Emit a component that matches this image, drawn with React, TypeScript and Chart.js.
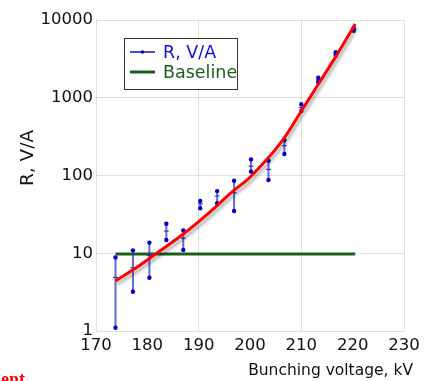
import React, { useEffect, useRef } from "react";
import { Chart, registerables } from "chart.js";

Chart.register(...registerables);

// Measured points (Bunching voltage, kV)
const xVals = [173.8, 177.2, 180.4, 183.7, 187.0, 190.3, 193.6, 196.9, 200.2, 203.6, 206.7, 210.0, 213.3, 216.7, 220.2];
const lowVals = [1.1, 3.2, 4.85, 14.8, 11, 37.9, 43.9, 34.9, 112, 87.5, 189, 676, 1580, 3473, 7250];
const highVals = [8.8, 10.9, 13.7, 24, 19.7, 47, 63, 85.7, 161, 155, 286, 824, 1811, 3845, 7900];
const centerVals = [4.9, 6.5, 9.3, 19.3, 15.6, 43, 54.5, 60, 132, 120, 242, 745, 1690, 3650, 7590];

// Fit curve samples
const fitX = [173.8, 177.5, 181.8, 187.0, 191.5, 196.8, 200.0, 205.9, 210.0, 213.3, 216.7, 220.5];
const fitY = [4.4, 6.3, 10, 17.7, 31, 63.8, 95, 259, 676, 1490, 3380, 8900];

// Baseline
const baselineX = [173.8, 220.5];
const baselineValue = 9.8;

const yTickValues = [1, 10, 100, 1000, 10000];
const xTitle = "Bunching voltage, kV";
const yTitle = "R, V/A";
const legendLabels = ["R, V/A", "Baseline"];

const BLUE = "#1010d8";
const GREEN = "#1d5e1d";
const FONT = "'DejaVu Sans', sans-serif";

export default function App() {
  const ref = useRef<HTMLCanvasElement>(null);

  useEffect(() => {
    if (!ref.current) return;
    const errData: { x: number; y: number | null }[] = [];
    xVals.forEach((x, i) => {
      errData.push({ x, y: lowVals[i] }, { x, y: highVals[i] }, { x, y: null });
    });

    const shadowPlugin = {
      id: "shadow",
      beforeDatasetDraw(chart: any, args: any) {
        const ds = chart.data.datasets[args.index];
        if (ds.shadow) {
          const ctx = chart.ctx;
          ctx.save();
          ctx.shadowColor = "rgba(0,0,0,0.3)";
          ctx.shadowOffsetX = 2;
          ctx.shadowOffsetY = 3;
          ctx.shadowBlur = 3;
        }
      },
      afterDatasetDraw(chart: any, args: any) {
        const ds = chart.data.datasets[args.index];
        if (ds.shadow) chart.ctx.restore();
      },
    };

    const decorPlugin = {
      id: "decor",
      afterDraw(chart: any) {
        const ctx = chart.ctx;
        const ca = chart.chartArea;
        ctx.save();
        // legend box
        const bx = ca.left + 28, by = 38, bw = 113, bh = 51;
        ctx.fillStyle = "#ffffff";
        ctx.fillRect(bx, by, bw, bh);
        ctx.strokeStyle = "#333";
        ctx.lineWidth = 1;
        ctx.strokeRect(bx + 0.5, by + 0.5, bw, bh);
        // item 1
        ctx.strokeStyle = BLUE;
        ctx.lineWidth = 1.5;
        ctx.beginPath();
        ctx.moveTo(bx + 6, 52);
        ctx.lineTo(bx + 31, 52);
        ctx.stroke();
        ctx.fillStyle = "#0000c0";
        ctx.beginPath();
        ctx.arc(bx + 18.5, 52, 1.8, 0, Math.PI * 2);
        ctx.fill();
        ctx.font = `17.5px ${FONT}`;
        ctx.textBaseline = "middle";
        ctx.textAlign = "left";
        ctx.fillStyle = BLUE;
        ctx.fillText(legendLabels[0], bx + 39, 53);
        // item 2
        ctx.strokeStyle = GREEN;
        ctx.lineWidth = 3;
        ctx.beginPath();
        ctx.moveTo(bx + 6, 72);
        ctx.lineTo(bx + 31, 72);
        ctx.stroke();
        ctx.fillStyle = GREEN;
        ctx.fillText(legendLabels[1], bx + 39, 73);

        // axis titles
        ctx.fillStyle = "#111";
        ctx.font = `15.5px ${FONT}`;
        ctx.textAlign = "right";
        ctx.textBaseline = "middle";
        ctx.fillText(xTitle, 413, 371);

        ctx.save();
        ctx.translate(28, 158);
        ctx.rotate(-Math.PI / 2);
        ctx.font = `18.5px ${FONT}`;
        ctx.textAlign = "center";
        ctx.textBaseline = "middle";
        ctx.fillText(yTitle, 0, 0);
        ctx.restore();
        ctx.restore();
      },
    };

    const chart = new Chart(ref.current, {
      type: "scatter",
      data: {
        datasets: [
          {
            label: "fit",
            type: "line",
            data: fitX.map((x, i) => ({ x, y: fitY[i] })),
            borderColor: "#ff0000",
            borderWidth: 3,
            pointRadius: 0,
            tension: 0.4,
            showLine: true,
            order: 0,
            shadow: true,
          } as any,
          {
            label: "R, V/A",
            data: errData,
            showLine: true,
            spanGaps: false,
            borderColor: "rgba(40,40,200,0.7)",
            borderWidth: 2,
            pointRadius: 2.2,
            pointBackgroundColor: "#0000c8",
            pointBorderColor: "#0000c8",
            pointBorderWidth: 0,
            order: 1,
          },
          {
            label: "center",
            data: xVals.map((x, i) => ({ x, y: centerVals[i] })),
            pointStyle: "line",
            pointRadius: 2.5,
            borderColor: "#2020c8",
            pointBorderColor: "#2020c8",
            pointBorderWidth: 1,
            order: 1,
          },
          {
            label: "Baseline",
            type: "line",
            data: baselineX.map((x) => ({ x, y: baselineValue })),
            borderColor: GREEN,
            borderWidth: 3,
            pointRadius: 0,
            showLine: true,
            order: 2,
          } as any,
        ],
      },
      options: {
        animation: false,
        responsive: false,
        maintainAspectRatio: false,
        layout: { padding: { top: 20, right: 21, left: 0, bottom: 0 } },
        plugins: { legend: { display: false }, tooltip: { enabled: false } },
        scales: {
          x: {
            type: "linear",
            min: 170,
            max: 230,
            afterFit: (s: any) => {
              s.height = 50;
            },
            ticks: {
              stepSize: 10,
              padding: 5,
              color: "#111",
              font: { family: FONT, size: 16.5 },
              maxRotation: 0,
            },
            grid: {
              drawTicks: false,
              color: (c: any) =>
                c.tick && (c.tick.value - 170) % 20 === 0 ? "rgba(0,0,0,0.12)" : "rgba(0,0,0,0)",
            },
            border: { display: false },
          },
          y: {
            type: "logarithmic",
            min: 1,
            max: 10000,
            afterFit: (s: any) => {
              s.width = 96;
            },
            afterBuildTicks: (s: any) => {
              s.ticks = yTickValues.map((v) => ({ value: v }));
            },
            ticks: {
              padding: 3,
              color: "#111",
              font: { family: FONT, size: 16.5 },
              callback: (v: any) => String(v),
            },
            grid: {
              drawTicks: false,
              color: "rgba(0,0,0,0.12)",
            },
            border: { display: false },
          },
        },
      },
      plugins: [shadowPlugin, decorPlugin],
    } as any);
    return () => chart.destroy();
  }, []);

  return (
    <div style={{ position: "absolute", left: 0, top: 0, width: 425, height: 381, overflow: "hidden", background: "#fff" }}>
      <canvas ref={ref} width={425} height={381} style={{ display: "block" }} />
      <span
        style={{
          position: "absolute",
          right: 400,
          top: 370,
          font: "bold 18px 'Liberation Serif', serif",
          lineHeight: "18px",
          color: "#ff0000",
          whiteSpace: "nowrap",
        }}
      >
        Experiment
      </span>
    </div>
  );
}
